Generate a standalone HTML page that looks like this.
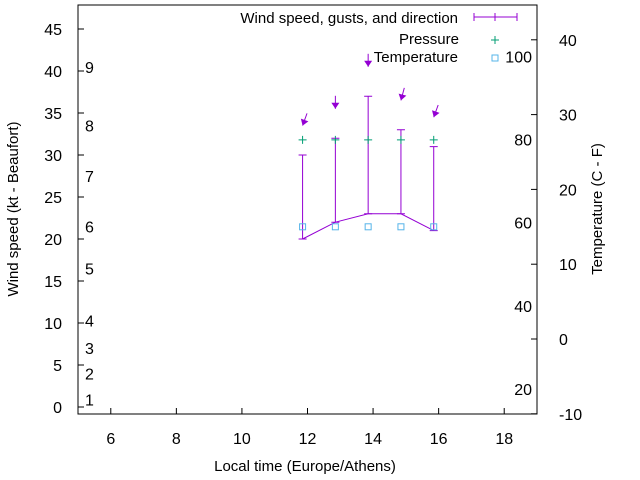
<!DOCTYPE html>
<html><head><meta charset="utf-8"><style>
body{margin:0;background:#fff}
svg{display:block;font-family:"Liberation Sans",Arial,sans-serif}
</style></head><body>
<svg width="640" height="480" viewBox="0 0 640 480">
<g id="axes"></g><g id="plot"></g>
</svg>
<script>
const hours=[11.85,12.85,13.85,14.85,15.85];
const windSpeed=[20,22,23,23,21];
const gusts=[30,32,37,33,31];
const windDir=[20,0,0,15,20];
const pressure=[31.8,31.8,31.8,31.8,31.8];
const temperature=[15,15,15,15,15];
const xTicks=[6,8,10,12,14,16,18];
const yTicks=[0,5,10,15,20,25,30,35,40,45];
const y2Ticks=[-10,0,10,20,30,40];
const beaufort=[[1,0.9],[2,4],[3,7],[4,10.3],[5,16.5],[6,21.5],[7,27.5],[8,33.5],[9,40.5]];
const fahr=[[20,-6.7],[40,4.4],[60,15.6],[80,26.7],[100,37.8]];

const L=78,R=537,T=5,B=414;
const X=v=>L+(v-5)*(R-L)/14;
const Y=v=>407-v*(378/45);
const Y2=v=>339-v*7.48;
const NS="http://www.w3.org/2000/svg";
const ax=document.getElementById('axes'),pl=document.getElementById('plot');
function mk(p,tag,a,txt){const e=document.createElementNS(NS,tag);for(const k in a)e.setAttribute(k,a[k]);if(txt!==undefined)e.textContent=txt;p.appendChild(e);return e;}

const frame=mk(ax,'rect',{x:L,y:T,width:R-L,height:B-T,fill:'none',stroke:'#000','stroke-width':1});


xTicks.forEach(v=>{
  const t=mk(ax,'line',{x1:X(v),x2:X(v),y1:B,y2:B-6,stroke:'#000'});
  
  
  const l=mk(ax,'text',{x:X(v),y:B+30,'text-anchor':'middle','font-size':16},v);
  
  
});
yTicks.forEach(v=>{
  const t=mk(ax,'line',{x1:L,x2:L+6,y1:Y(v),y2:Y(v),stroke:'#000'});
  
  
  const l=mk(ax,'text',{x:L-16,y:Y(v)+6,'text-anchor':'end','font-size':16},v);
  
  
});
y2Ticks.forEach(v=>{
  const t=mk(ax,'line',{x1:R,x2:R-6,y1:Y2(v),y2:Y2(v),stroke:'#000'});
  
  
  const l=mk(ax,'text',{x:R+22,y:Y2(v)+6,'text-anchor':'start','font-size':16},v);
  
  
});
beaufort.forEach(([b,v])=>{
  const l=mk(ax,'text',{x:85,y:Y(v)+6,'font-size':16},b);
  
  
});
fahr.forEach(([f,v])=>{
  const l=mk(ax,'text',{x:532,y:Y2(v)+6,'text-anchor':'end','font-size':16},f);
  
  
});
let e=mk(ax,'text',{x:305,y:471,'text-anchor':'middle','font-size':15},'Local time (Europe/Athens)');


e=mk(ax,'text',{x:0,y:0,'text-anchor':'middle','font-size':15,transform:'translate(18,209) rotate(-90)'},'Wind speed (kt - Beaufort)');


e=mk(ax,'text',{x:0,y:0,'text-anchor':'middle','font-size':15,transform:'translate(602,209) rotate(-90)'},'Temperature (C - F)');



// legend
const P='#9400d3',G='#009e73',C='#56b4e9';
e=mk(ax,'text',{x:458,y:23,'text-anchor':'end','font-size':15},'Wind speed, gusts, and direction');


mk(ax,'path',{d:'M474 17H517M474 13V21M517 13V21M495 13V21',stroke:P,fill:'none'});
e=mk(ax,'text',{x:459,y:44,'text-anchor':'end','font-size':15},'Pressure');


mk(ax,'path',{d:'M491 40H499M495 36V44',stroke:G});
e=mk(ax,'text',{x:458,y:62,'text-anchor':'end','font-size':15},'Temperature');


mk(ax,'rect',{x:492,y:55,width:6,height:6,fill:'none',stroke:C});

// wind line
let d='';
hours.forEach((h,i)=>{d+=(i?'L':'M')+X(h)+' '+Y(windSpeed[i]);});
e=mk(pl,'path',{d:d,stroke:P,fill:'none','stroke-width':1});


hours.forEach((h,i)=>{
  const x=X(h);
  const g=mk(pl,'path',{d:`M${x} ${Y(windSpeed[i])}V${Y(gusts[i])}M${x-4} ${Y(gusts[i])}H${x+4}M${x-4} ${Y(windSpeed[i])}H${x+4}`,stroke:P,fill:'none'});
  
  
  // direction arrow
  const tipY=Y(gusts[i]+3.5),len=13,a=windDir[i]*Math.PI/180;
  const tx=x,ty=tipY,sx=tx+Math.sin(a)*len,sy=ty-Math.cos(a)*len;
  const ar=mk(pl,'g',{});
  
  
  mk(ar,'line',{x1:sx,y1:sy,x2:tx,y2:ty,stroke:P});
  const ux=Math.sin(a),uy=-Math.cos(a),px=-uy,py=ux;
  mk(ar,'polygon',{points:`${tx},${ty} ${tx+ux*6+px*4},${ty+uy*6+py*4} ${tx+ux*6-px*4},${ty+uy*6-py*4}`,fill:P});
  const pm=mk(pl,'path',{d:`M${x-4} ${Y(pressure[i])}H${x+4}M${x} ${Y(pressure[i])-4}V${Y(pressure[i])+4}`,stroke:G});
  
  
  const tp=mk(pl,'rect',{x:x-3,y:Y2(temperature[i])-3,width:6,height:6,fill:'none',stroke:C});
  
  
});
</script>
</body></html>
